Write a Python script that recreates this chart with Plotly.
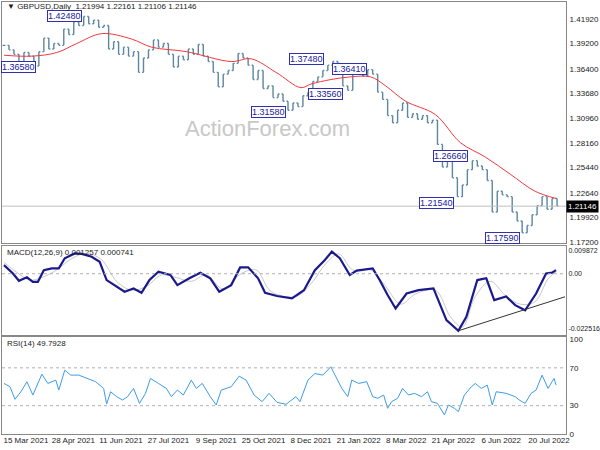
import plotly.graph_objects as go
from plotly.subplots import make_subplots

# ---------------- data (x = session index) ----------------
close = [1.390,1.385,1.380,1.370,1.382,1.378,1.367,1.383,1.398,1.386,1.392,1.390,1.408,1.402,1.416,1.412,
         1.422,1.414,1.418,1.410,1.412,1.386,1.394,1.380,1.388,1.378,1.383,1.360,1.376,1.385,1.396,1.388,
         1.392,1.380,1.366,1.378,1.374,1.386,1.380,1.391,1.378,1.372,1.360,1.344,1.358,1.362,1.370,1.381,
         1.376,1.368,1.352,1.362,1.342,1.345,1.332,1.336,1.328,1.318,1.326,1.322,1.334,1.338,1.350,1.355,
         1.362,1.368,1.372,1.360,1.345,1.340,1.358,1.362,1.356,1.363,1.358,1.338,1.330,1.312,1.304,1.318,
         1.326,1.310,1.314,1.308,1.312,1.304,1.307,1.280,1.255,1.262,1.243,1.222,1.235,1.252,1.262,1.256,
         1.252,1.240,1.205,1.228,1.224,1.222,1.205,1.195,1.182,1.190,1.202,1.212,1.222,1.208,1.220,1.2115]
close_x = list(range(0, 5 * len(close), 5))

ma_x = [0,28,53,73,98,128,148,183,228,248,273,298,308,328,348,368,383,403,433,458,483,508,533,554]
ma = [1.379,1.378,1.382,1.392,1.403,1.397,1.388,1.383,1.372,1.375,1.360,1.343,1.347,1.352,1.355,1.355,
      1.345,1.328,1.313,1.282,1.266,1.247,1.228,1.220]

macd_x = [0,9,15,23,29,34,40,48,55,61,71,78,88,96,103,113,121,130,138,146,155,167,174,186,197,207,216,
          228,237,245,255,262,274,289,301,312,322,329,337,347,354,370,377,385,393,404,416,431,437,444,456,
          464,475,484,492,504,513,523,534,544,550,554]
macd = [0.0034,0.0001,-0.0028,-0.0014,-0.0032,-0.0032,0.0014,0.0021,0.0021,0.0061,0.0080,0.0078,0.0067,
        0.0047,-0.0025,-0.0051,-0.0071,-0.0058,-0.0075,-0.0025,0.0008,-0.0005,-0.0045,-0.0018,0.0004,
        -0.0018,-0.0071,-0.0045,0.0025,0.0025,-0.0018,-0.0075,-0.0088,-0.0097,-0.0065,0.0014,0.0054,0.0087,
        0.0061,-0.0005,0.0012,0.0021,-0.0025,-0.0084,-0.0137,-0.0078,-0.0065,-0.0058,-0.0117,-0.0183,
        -0.0225,-0.0170,-0.0025,-0.0018,-0.0104,-0.0090,-0.0124,-0.0144,-0.0078,0.0001,0.0004,0.0014]
sig_x = [0,13,26,38,53,68,83,98,113,128,143,158,173,188,203,220,238,253,268,293,308,323,336,350,368,383,
         398,413,433,448,460,473,488,503,518,533,546,554]
sig = [0.0045,0.0005,-0.0025,-0.0015,0.0015,0.0060,0.0080,0.0055,-0.0030,-0.0065,-0.0050,-0.0005,-0.0015,
       -0.0030,-0.0005,-0.0060,0.0000,0.0015,-0.0070,-0.0090,-0.0040,0.0040,0.0078,0.0015,0.0015,-0.0050,
       -0.0120,-0.0080,-0.0065,-0.0170,-0.0210,-0.0090,-0.0030,-0.0085,-0.0120,-0.0110,-0.0020,0.0008]
trend_x = [456, 563]
trend = [-0.0225, -0.0091]

rsi_x = [0,6,11,17,23,29,38,44,52,55,61,67,75,84,92,100,103,107,113,119,124,130,136,142,147,155,163,168,
         174,180,188,193,199,207,213,218,228,236,243,251,259,266,274,283,293,297,305,312,320,328,333,339,
         345,349,356,364,370,375,381,385,389,395,400,406,412,419,425,429,435,439,442,446,452,456,462,469,
         473,479,485,490,494,504,513,517,523,529,534,540,546,552,554]
rsi = [53.5,50.0,36.7,44.7,55.3,41.2,63.3,53.5,57.0,46.5,67.5,62.3,62.3,58.8,55.3,48.2,31.7,44.7,39.5,36.0,
       39.5,48.2,32.4,43.0,58.8,53.5,48.2,39.5,46.5,41.2,57.0,48.2,53.5,39.5,30.7,46.5,50.0,61.2,57.0,41.2,
       34.2,43.0,33.5,31.4,39.5,34.2,57.0,64.0,62.3,71.1,60.5,48.2,39.5,57.0,53.5,55.3,39.5,37.8,41.2,27.2,
       34.2,37.8,48.2,41.2,43.0,39.5,44.7,34.2,32.4,25.4,20.2,30.7,27.2,23.7,41.2,50.0,53.5,48.2,51.7,30.7,
       44.7,43.0,39.5,36.0,32.4,43.0,46.5,62.3,48.2,58.8,51.7]

date_labels = ["15 Mar 2021","28 Apr 2021","11 Jun 2021","27 Jul 2021","9 Sep 2021","25 Oct 2021",
               "8 Dec 2021","21 Jan 2022","8 Mar 2022","21 Apr 2022","6 Jun 2022","20 Jul 2022"]
date_pos = [0,47.7,95.4,143,191,238.5,286,334,381.6,429,477,525]
price_ticks = [1.172,1.1992,1.2264,1.2544,1.2816,1.3096,1.3368,1.364,1.392,1.4192]
level_labels = ["1.42480","1.36580","1.31580","1.37480","1.33560","1.36410","1.26660","1.21540","1.17590"]
level_vals = [1.4248,1.3658,1.3158,1.3748,1.3356,1.3641,1.2666,1.2154,1.1759]
level_x = [61,15,265,304,323,347,448,434,500]
last_price = 1.21146

# ---------------- figure ----------------
opens = [close[0]] + close[:-1]
highs = [max(o, c) for o, c in zip(opens, close)]
lows = [min(o, c) for o, c in zip(opens, close)]

fig = make_subplots(rows=3, cols=1, shared_xaxes=True, vertical_spacing=0.01)
fig.add_trace(go.Ohlc(x=close_x, open=opens, high=highs, low=lows, close=close,
                      increasing_line_color="#5d87a1", decreasing_line_color="#5d87a1",
                      line_width=1.4, tickwidth=0.3, showlegend=False), 1, 1)
fig.add_trace(go.Scatter(x=ma_x, y=ma, mode="lines", line=dict(color="#f0393c", width=1, shape="spline"),
                         showlegend=False), 1, 1)
fig.add_trace(go.Scatter(x=sig_x, y=sig, mode="lines", line=dict(color="#c8c8c8", width=1, shape="spline"),
                         showlegend=False), 2, 1)
fig.add_trace(go.Scatter(x=macd_x, y=macd, mode="lines", line=dict(color="#1a1a8c", width=2.2),
                         showlegend=False), 2, 1)
fig.add_trace(go.Scatter(x=trend_x, y=trend, mode="lines", line=dict(color="#333333", width=1),
                         showlegend=False), 2, 1)
fig.add_trace(go.Scatter(x=rsi_x, y=rsi, mode="lines", line=dict(color="#3d9be9", width=1),
                         showlegend=False), 3, 1)

font = dict(family="Liberation Sans", size=8, color="#222")
axis_common = dict(showline=True, linecolor="#888", linewidth=1, mirror=True, showgrid=False,
                   zeroline=False, ticks="", tickfont=font, automargin=False)
xr = [-2, 564]
fig.update_xaxes(**axis_common, range=xr, rangeslider_visible=False, showticklabels=False)
fig.update_xaxes(row=3, col=1, showticklabels=True, tickvals=[p + 22 for p in date_pos],
                 ticktext=date_labels, ticklabelstandoff=-2)
fig.update_yaxes(**axis_common, side="right", ticklabelstandoff=1)
fig.update_yaxes(row=1, col=1, domain=[0.442, 1.0], range=[1.1705, 1.4381], tickvals=price_ticks,
                 ticktext=["%.5f" % v for v in price_ticks])
fig.update_yaxes(row=2, col=1, domain=[0.229, 0.435], range=[-0.0242, 0.0109],
                 tickvals=[0.0093, 0.0, -0.0216], ticktext=["0.009872", "0.00", "-0.022516"],
                 tickfont=dict(family="Liberation Sans", size=7, color="#222"), ticklabelstandoff=0)
fig.update_yaxes(row=3, col=1, domain=[0.0, 0.2245], range=[0, 102.6], tickvals=[0, 30, 70, 100],
                 ticktext=["0", "30", "70", "100"])

# reference lines
fig.add_shape(type="line", xref="x", yref="y", x0=xr[0], x1=xr[1], y0=last_price, y1=last_price,
              line=dict(color="#c0c0c0", width=1))
fig.add_shape(type="line", xref="x2", yref="y2", x0=xr[0], x1=xr[1], y0=0, y1=0,
              line=dict(color="#b0b0b0", width=1, dash="dot"))
for lv in [30, 70]:
    fig.add_shape(type="line", xref="x3", yref="y3", x0=xr[0], x1=xr[1], y0=lv, y1=lv,
                  line=dict(color="#b0b0b0", width=1, dash="dot"))

for t, v, x in zip(level_labels, level_vals, level_x):
    fig.add_annotation(x=x, y=v, xref="x", yref="y", text=t, showarrow=False,
                       yshift=-2 if t == "1.42480" else 0,
                       font=dict(family="Liberation Sans", size=9, color="#2020a0"),
                       bgcolor="white", bordercolor="#3030b0", borderwidth=1, borderpad=0)

fig.add_annotation(x=1.0, y=last_price, xref="paper", yref="y", xanchor="left", text="1.21146",
                   showarrow=False, font=dict(family="Liberation Sans", size=8, color="white"),
                   bgcolor="black", borderpad=1)
fig.add_annotation(x=0.005, y=1.0, xref="paper", yref="paper", xanchor="left", yanchor="top", yshift=2,
                   text="▼ GBPUSD,Daily  1.21994 1.22161 1.21106 1.21146", showarrow=False, font=font)
fig.add_annotation(x=0.005, y=0.435, xref="paper", yref="paper", xanchor="left", yanchor="top",
                   text="MACD(12,26,9) 0.001257 0.000741", showarrow=False, font=font)
fig.add_annotation(x=0.005, y=0.2245, xref="paper", yref="paper", xanchor="left", yanchor="top",
                   text="RSI(14) 49.7928", showarrow=False, font=font)
fig.add_annotation(x=0.47, y=0.74, xref="paper", yref="paper", text="ActionForex.com", showarrow=False,
                   font=dict(family="Liberation Sans", size=22, color="#c8c8c8"))

fig.update_layout(width=600, height=450, margin=dict(l=2, r=34, t=2, b=16),
                  paper_bgcolor="white", plot_bgcolor="white")
fig.write_html("out.html", post_script="document.body.style.margin='0';",
               config={"displayModeBar": False})
